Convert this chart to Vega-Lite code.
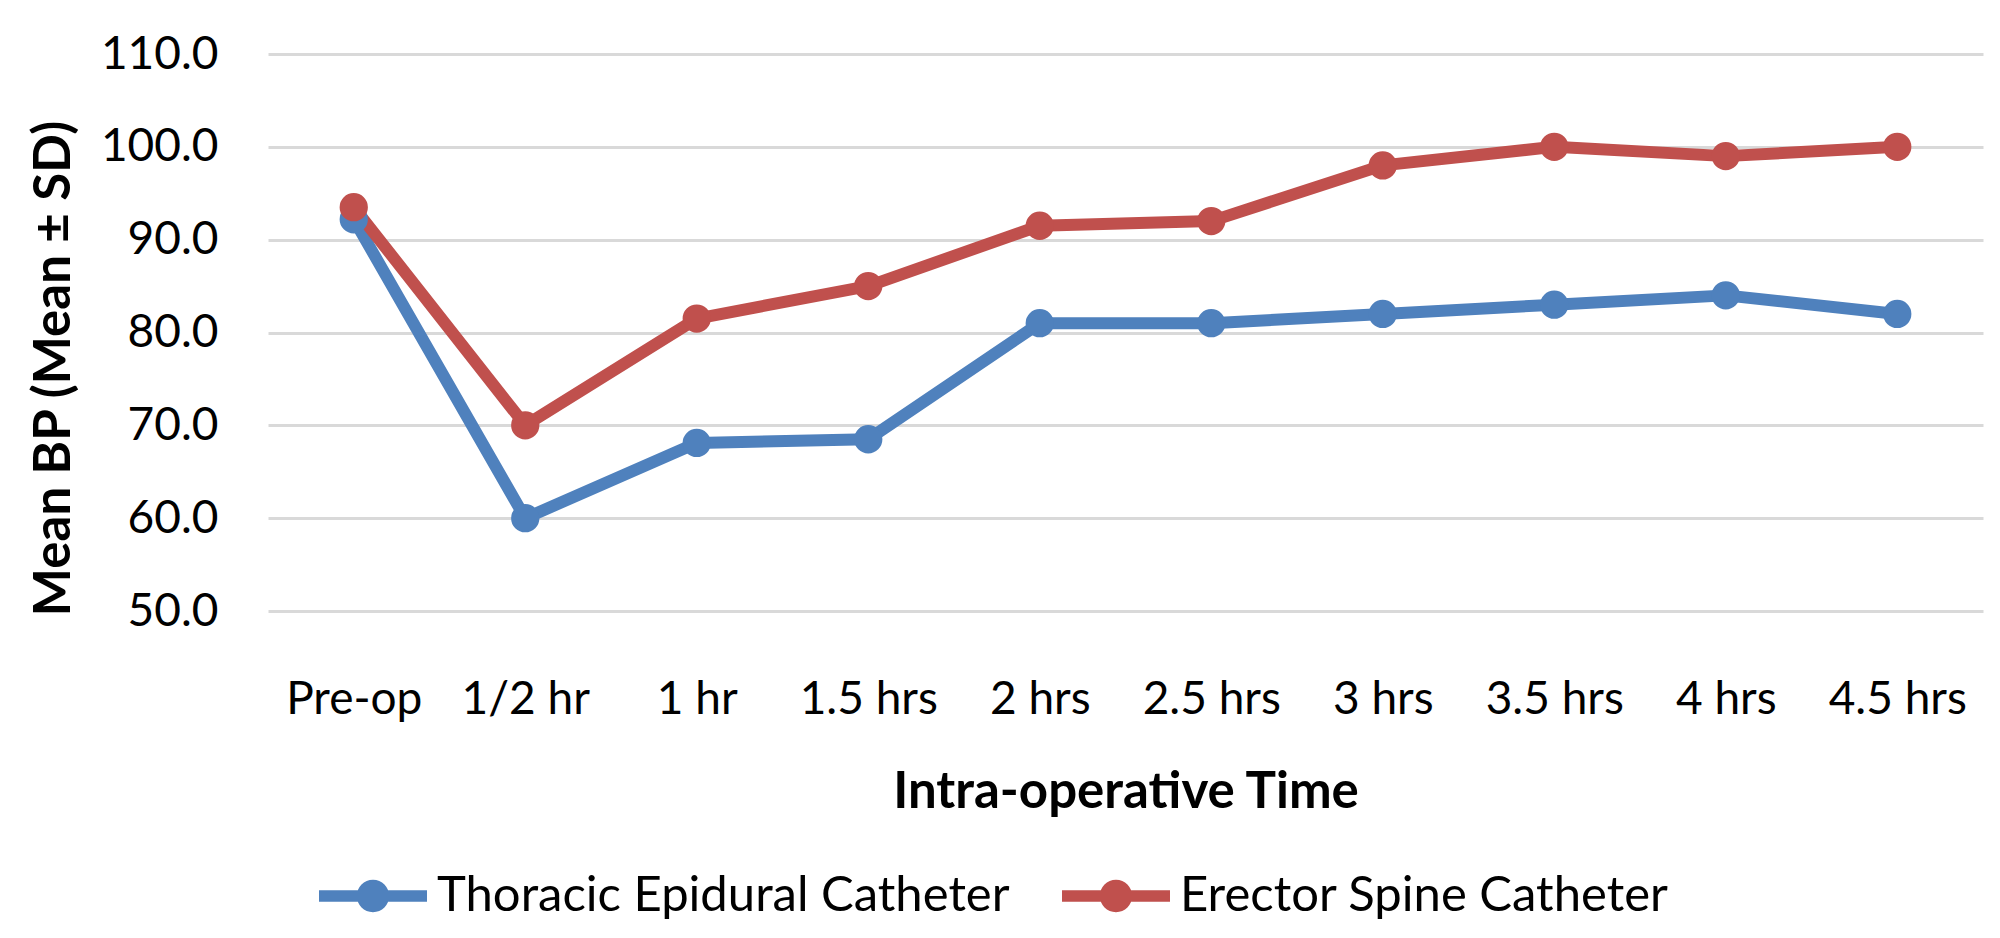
{
  "$schema": "https://vega.github.io/schema/vega-lite/v6.json",
  "width": 1715,
  "height": 557,
  "autosize": {"type": "none"},
  "padding": {"left": 268, "top": 54, "right": 17, "bottom": 327},
  "background": "white",
  "config": {
    "view": {"stroke": null},
    "font": "Lato",
    "axis": {"labelFont": "Lato", "titleFont": "Lato", "labelColor": "#000000", "titleColor": "#000000"},
    "legend": {"labelFont": "Lato", "labelColor": "#000000"}
  },
  "data": {
    "values": [
      {"time": "Pre-op", "group": "Thoracic Epidural Catheter", "bp": 92.2},
      {"time": "1/2 hr", "group": "Thoracic Epidural Catheter", "bp": 60.0},
      {"time": "1 hr", "group": "Thoracic Epidural Catheter", "bp": 68.1},
      {"time": "1.5 hrs", "group": "Thoracic Epidural Catheter", "bp": 68.5},
      {"time": "2 hrs", "group": "Thoracic Epidural Catheter", "bp": 81.0},
      {"time": "2.5 hrs", "group": "Thoracic Epidural Catheter", "bp": 81.0},
      {"time": "3 hrs", "group": "Thoracic Epidural Catheter", "bp": 82.0},
      {"time": "3.5 hrs", "group": "Thoracic Epidural Catheter", "bp": 83.0},
      {"time": "4 hrs", "group": "Thoracic Epidural Catheter", "bp": 84.0},
      {"time": "4.5 hrs", "group": "Thoracic Epidural Catheter", "bp": 82.0},
      {"time": "Pre-op", "group": "Erector Spine Catheter", "bp": 93.5},
      {"time": "1/2 hr", "group": "Erector Spine Catheter", "bp": 70.0},
      {"time": "1 hr", "group": "Erector Spine Catheter", "bp": 81.5},
      {"time": "1.5 hrs", "group": "Erector Spine Catheter", "bp": 85.0},
      {"time": "2 hrs", "group": "Erector Spine Catheter", "bp": 91.5},
      {"time": "2.5 hrs", "group": "Erector Spine Catheter", "bp": 92.0},
      {"time": "3 hrs", "group": "Erector Spine Catheter", "bp": 98.0},
      {"time": "3.5 hrs", "group": "Erector Spine Catheter", "bp": 100.0},
      {"time": "4 hrs", "group": "Erector Spine Catheter", "bp": 99.0},
      {"time": "4.5 hrs", "group": "Erector Spine Catheter", "bp": 100.0}
    ]
  },
  "encoding": {
    "x": {
      "field": "time",
      "type": "nominal",
      "sort": ["Pre-op", "1/2 hr", "1 hr", "1.5 hrs", "2 hrs", "2.5 hrs", "3 hrs", "3.5 hrs", "4 hrs", "4.5 hrs"],
      "scale": {"type": "point", "padding": 0.5},
      "axis": {
        "title": "Intra-operative Time",
        "titleFontSize": 51,
        "titleFontWeight": "bold",
        "titlePadding": 45,
        "labelFontSize": 46,
        "labelAngle": 0,
        "labelPadding": 66,
        "ticks": false,
        "tickSize": 0,
        "domain": false,
        "grid": false
      }
    },
    "y": {
      "field": "bp",
      "type": "quantitative",
      "scale": {"domain": [50, 110], "nice": false, "zero": false},
      "axis": {
        "title": "Mean BP (Mean ± SD)",
        "titleFontSize": 51,
        "titleFontWeight": "bold",
        "titlePadding": 20,
        "titleY": 314,
        "labelFontSize": 46,
        "labelPadding": 50,
        "values": [50, 60, 70, 80, 90, 100, 110],
        "format": ".1f",
        "ticks": false,
        "tickSize": 0,
        "domain": false,
        "grid": true,
        "gridColor": "#D9D9D9",
        "gridWidth": 3
      }
    },
    "color": {
      "field": "group",
      "type": "nominal",
      "scale": {"domain": ["Thoracic Epidural Catheter", "Erector Spine Catheter"], "range": ["#4F81BD", "#C0504D"]},
      "legend": {
        "title": null,
        "orient": "none",
        "direction": "horizontal",
        "legendX": 51,
        "legendY": 788,
        "padding": 0,
        "labelFontSize": 49,
        "labelOffset": 10,
        "columnPadding": 52,
        "symbolType": "M-1,-0.107L1,-0.107L1,0.107L-1,0.107Z M-0.3,0 A0.3,0.3 0 1,1 0.3,0 A0.3,0.3 0 1,1 -0.3,0Z",
        "symbolSize": 11664,
        "symbolStrokeWidth": 0,
        "symbolOpacity": 1,
        "labelLimit": 1000
      }
    }
  },
  "layer": [
    {"mark": {"type": "line", "strokeWidth": 12, "strokeJoin": "round", "strokeCap": "round"}},
    {"mark": {"type": "point", "shape": "circle", "filled": true, "size": 800, "opacity": 1}}
  ]
}
